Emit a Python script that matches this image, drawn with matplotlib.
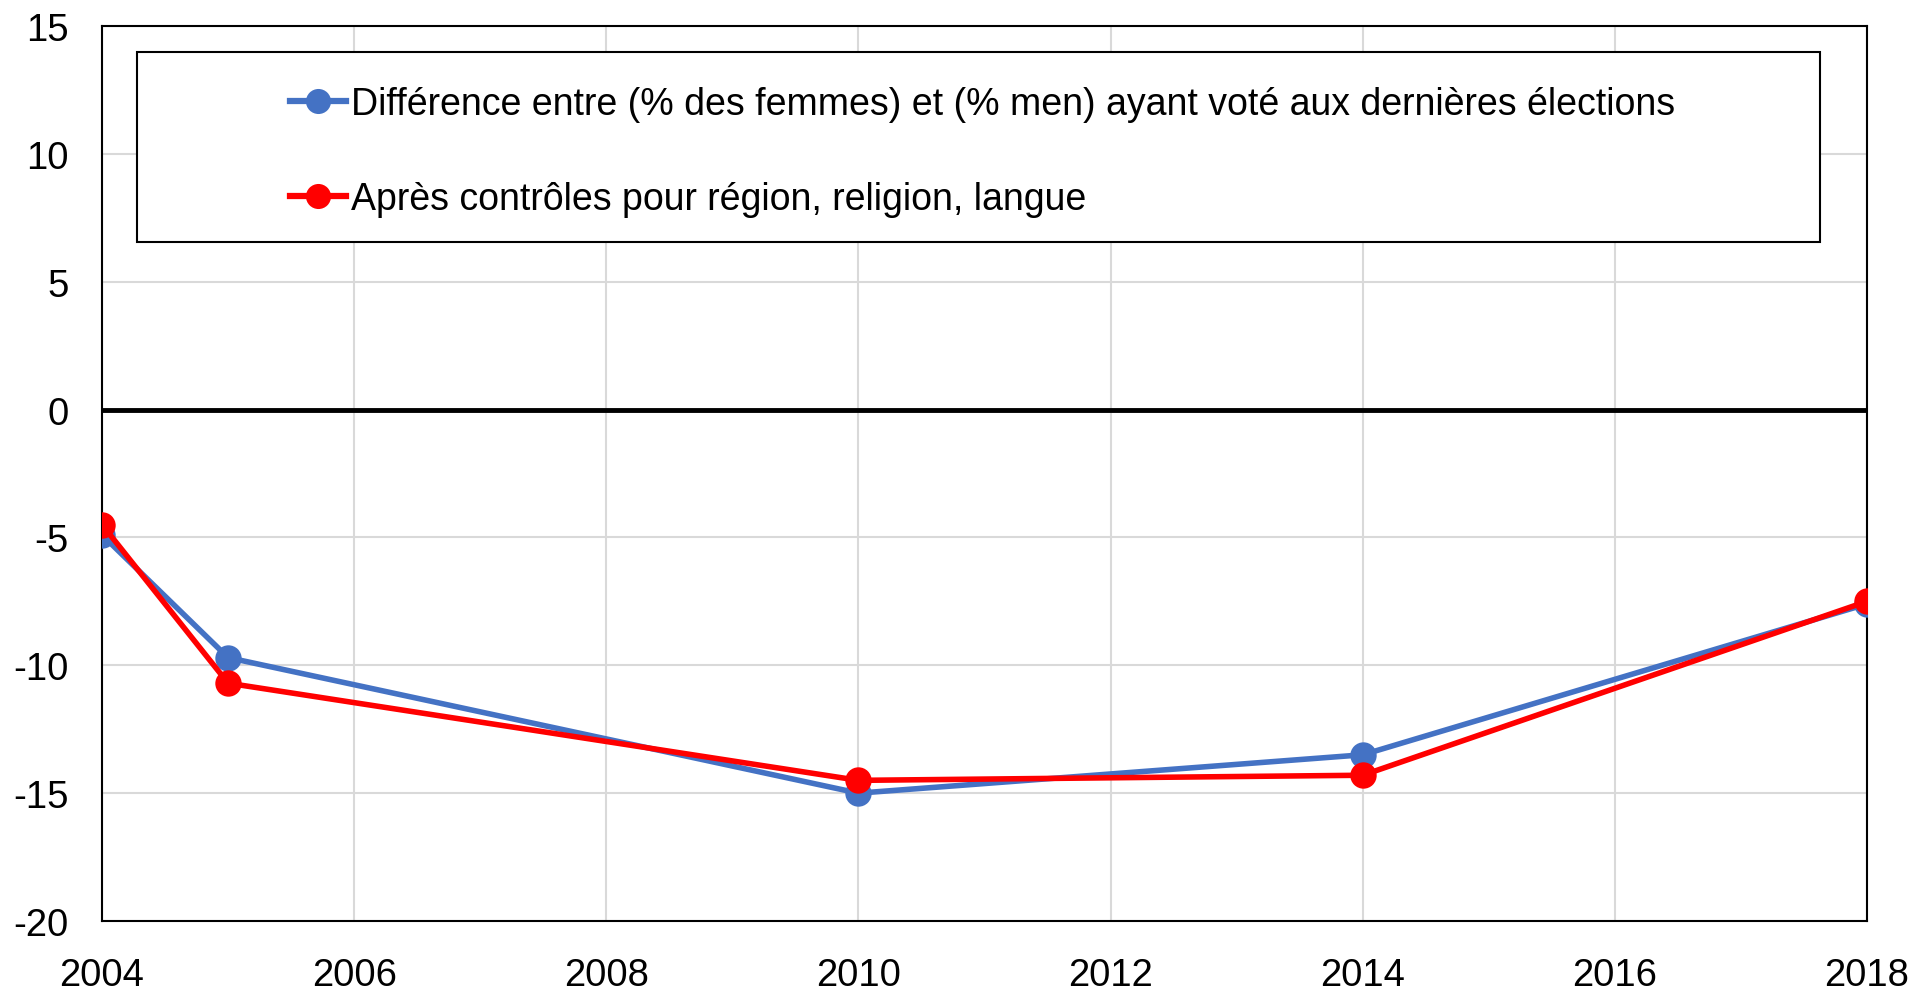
import matplotlib
matplotlib.use("Agg")
import matplotlib.pyplot as plt
from matplotlib.patches import Rectangle

# survey years and the women-minus-men turnout gap (percentage points)
years = [2004, 2005, 2010, 2014, 2018]
raw_gap = [-4.9, -9.7, -15.0, -13.5, -7.6]
adjusted_gap = [-4.5, -10.7, -14.5, -14.3, -7.5]

labels = [
    "Différence entre (% des femmes) et (% men) ayant voté aux dernières élections",
    "Après contrôles pour région, religion, langue",
]

plt.rcParams["font.family"] = ["Liberation Sans", "DejaVu Sans"]
plt.rcParams["axes.unicode_minus"] = False

W, H = 1915, 995
fig = plt.figure(figsize=(W / 100, H / 100), dpi=100)
ax = fig.add_axes([102 / W, 1 - 922 / H, (1867 - 102) / W, (922 - 27) / H])

ax.plot(years, raw_gap, color="#4472C4", lw=4, marker="o", ms=19, mew=0,
        label=labels[0], zorder=3)
ax.plot(years, adjusted_gap, color="#FF0000", lw=4, marker="o", ms=19, mew=0,
        label=labels[1], zorder=4)
ax.axhline(0, color="black", lw=3.5, zorder=2)

ax.set_xlim(2004, 2018)
ax.set_ylim(-20, 15)
ax.set_xticks(range(2004, 2019, 2))
ax.set_yticks(range(-20, 16, 5))
ax.grid(True, color="#d9d9d9", lw=1.5, zorder=0)
ax.set_axisbelow(True)
ax.tick_params(length=0, labelsize=27.5)
ax.tick_params(axis="x", pad=26)
ax.tick_params(axis="y", pad=24)
for s in ax.spines.values():
    s.set_color("black")
    s.set_linewidth(1.5)

# legend frame drawn separately so the entries can be indented
box = Rectangle((137 / W, 1 - 243 / H), (1820 - 137) / W, (243 - 53) / H,
                transform=fig.transFigure, facecolor="white", edgecolor="black",
                lw=1.5, zorder=5)
fig.patches.append(box)

leg = fig.legend(loc="upper left", bbox_to_anchor=(290 / W, 1 - 87 / H),
                 fontsize=27, frameon=False, handlelength=1.5,
                 handletextpad=0.12, labelspacing=1.57, borderaxespad=0,
                 borderpad=0, markerscale=0.95)
for h in leg.get_lines():
    h.set_linewidth(4.5)
leg.set_zorder(6)

fig.savefig("out.png", dpi=100)
